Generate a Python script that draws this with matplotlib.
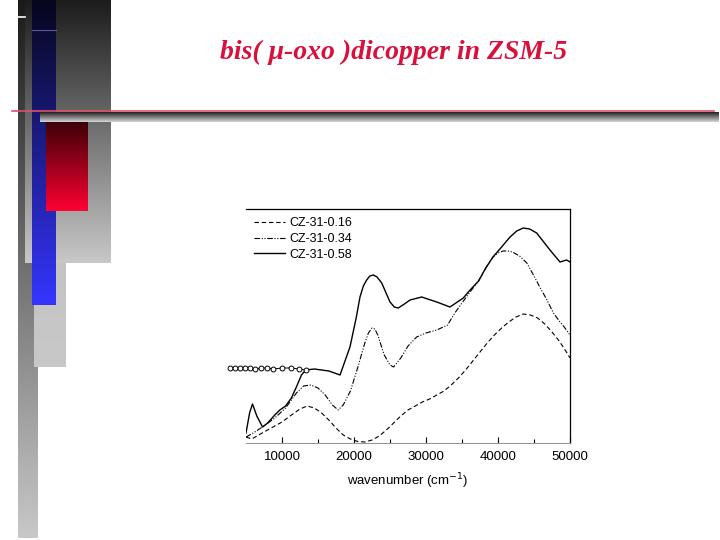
import numpy as np
import matplotlib
matplotlib.use("Agg")
import matplotlib.pyplot as plt
from matplotlib.colors import LinearSegmentedColormap

# spectra (wavenumber in cm-1, arbitrary absorbance)
wn_016 = [5000, 5800, 7000, 8500, 10000, 11500, 12500, 13500, 14500, 15500, 16500, 17500,
          18500, 19500, 20500, 21500, 22500, 23500, 24500, 25500, 26500, 27500, 28500, 29500,
          30500, 31500, 32500, 33500, 34500, 35500, 36500, 37500, 38500, 39500, 40500, 41500,
          42500, 43500, 44500, 45500, 46500, 47500, 48500, 49500, 50000]
ab_016 = [0.06, 0.04, 0.09, 0.15, 0.21, 0.29, 0.34, 0.37, 0.35, 0.30, 0.23, 0.15,
          0.08, 0.04, 0.015, 0.01, 0.03, 0.07, 0.13, 0.20, 0.27, 0.33, 0.37, 0.41,
          0.44, 0.48, 0.52, 0.58, 0.65, 0.73, 0.82, 0.91, 1.00, 1.08, 1.15, 1.21,
          1.26, 1.29, 1.28, 1.25, 1.19, 1.11, 1.02, 0.91, 0.85]

wn_034 = [5000, 6000, 7500, 9000, 10500, 12000, 13000, 14000, 15000, 16000, 17000, 17800,
          18500, 19500, 20500, 21500, 22000, 22500, 22900, 23300, 24200, 25000, 25500, 26500,
          27500, 28700, 30000, 31500, 33000, 34000, 35000, 36000, 37300, 38300, 39300, 40000,
          40700, 41400, 42000, 43000, 44000, 45000, 45800, 46800, 47700, 48500, 49200, 50000]
ab_034 = [0.06, 0.10, 0.17, 0.25, 0.35, 0.50, 0.57, 0.58, 0.55, 0.48, 0.38, 0.33,
          0.38, 0.52, 0.75, 1.00, 1.10, 1.15, 1.14, 1.08, 0.88, 0.78, 0.76, 0.85,
          0.97, 1.06, 1.10, 1.13, 1.18, 1.30, 1.40, 1.50, 1.62, 1.75, 1.86, 1.90,
          1.92, 1.92, 1.91, 1.87, 1.80, 1.67, 1.56, 1.43, 1.30, 1.22, 1.16, 1.08]

wn_058 = [5000, 5500, 5900, 6500, 7300, 8000, 9000, 9700, 10500, 11300, 12000, 12700,
          13300, 14500, 15500, 16500, 17300, 18060, 19440, 20300, 20830, 21300, 21760, 22200,
          22680, 23200, 23850, 25000, 25600, 26150, 27000, 27780, 29400, 31490, 33330, 35180,
          36000, 37300, 38300, 39300, 40500, 41670, 42600, 43510, 44400, 45370, 47220, 48610,
          49540, 50000]
ab_058 = [0.10, 0.30, 0.39, 0.27, 0.16, 0.20, 0.28, 0.33, 0.37, 0.45, 0.56, 0.68,
          0.73, 0.74, 0.73, 0.72, 0.70, 0.68, 0.96, 1.25, 1.46, 1.57, 1.63, 1.67,
          1.68, 1.66, 1.60, 1.41, 1.36, 1.35, 1.39, 1.43, 1.46, 1.41, 1.36, 1.45,
          1.52, 1.62, 1.75, 1.86, 1.96, 2.06, 2.12, 2.15, 2.14, 2.10, 1.93, 1.81,
          1.83, 1.81]

# stray marker trace that spills left of the frame on the slide
wn_stray = [2800, 3500, 4200, 4900, 5600, 6300, 7100, 7900, 8800, 10000, 11200, 12400, 13300]
ab_stray = [0.75, 0.75, 0.75, 0.75, 0.75, 0.74, 0.75, 0.75, 0.74, 0.75, 0.75, 0.74, 0.73]

labels = ["CZ-31-0.16", "CZ-31-0.34", "CZ-31-0.58"]
xticks = [10000, 20000, 30000, 40000, 50000]

fig = plt.figure(figsize=(7.2, 5.4), dpi=100)

# slide background decoration, in pixel coordinates
bg = fig.add_axes([0, 0, 1, 1])
bg.set_xlim(0, 720)
bg.set_ylim(540, 0)
bg.axis("off")


def grad(x0, x1, y0, y1, c_top, c_bot, z=1):
    cmap = LinearSegmentedColormap.from_list("g", [c_top, c_bot])
    g = np.linspace(0, 1, 256).reshape(-1, 1)
    bg.imshow(g, cmap=cmap, extent=(x0, x1, y1, y0), aspect="auto", zorder=z,
              interpolation="bicubic")


grad(18, 38, 0, 538, "#1a1a1a", "#c8c8c8", 1)
grad(25, 111, 0, 263, "#1c1c1c", "#c8c8c8", 2)
grad(34, 66, 263, 367, "#c4c4c4", "#c8c8c8", 2)
grad(32, 56, 0, 305, "#06061c", "#3535ff", 3)
grad(46, 88, 121, 211, "#3a0006", "#ff0033", 4)
grad(40, 719, 112, 122, "#1e1e1e", "#d8d8d8", 5)
bg.plot([32, 56], [30, 30], color="#5a5a9a", lw=0.8, zorder=6)
bg.plot([18, 25], [17, 17], color="white", lw=1.2, zorder=6)
bg.plot([12, 714], [110.5, 110.5], color="#e0506a", lw=1.2, zorder=6)
bg.set_xlim(0, 720)
bg.set_ylim(540, 0)

fig.text(0.546, 0.903, "bis( μ-oxo )dicopper in ZSM-5", ha="center", va="center",
         fontsize=20, fontweight="bold", fontstyle="italic",
         family="Liberation Serif", color="#d8103c")

# the spectrum panel
ax = fig.add_axes([246 / 720, 1 - 443 / 540, 324 / 720, 234 / 540])
ax.patch.set_alpha(0)
ax.plot(wn_016, ab_016, color="black", lw=0.8, ls=(0, (4, 2.5)), label=labels[0])
ax.plot(wn_034, ab_034, color="black", lw=0.8, ls=(0, (5, 1.5, 1, 1.5, 1, 1.5)), label=labels[1])
ax.plot(wn_058, ab_058, color="black", lw=1.0, ls="-", label=labels[2])
ax.plot(wn_stray, ab_stray, color="black", lw=0.7, marker="o", ms=3.5, mfc="white",
        mec="black", mew=0.7, clip_on=False)

ax.set_xlim(5000, 50000)
ax.set_ylim(0, 2.34)
ax.set_xticks(xticks)
ax.set_xticks([15000, 25000, 35000, 45000], minor=True)
ax.set_yticks([])
ax.tick_params(axis="x", which="major", direction="in", length=4, width=0.8,
               labelsize=9.5, pad=6)
ax.tick_params(axis="x", which="minor", direction="in", length=3, width=0.8)
for lab in ax.get_xticklabels():
    lab.set_family("Liberation Sans")
ax.spines["left"].set_visible(False)
ax.spines["bottom"].set_color("#999999")
ax.spines["top"].set_linewidth(0.9)
ax.spines["right"].set_linewidth(0.9)
ax.set_xlabel("wavenumber (cm$^{-1}$)", fontsize=9.5, family="Liberation Sans", labelpad=6)

leg = ax.legend(loc="upper left", frameon=False, handlelength=2.5,
                handletextpad=0.35, labelspacing=0.3, borderaxespad=0.25,
                prop={"family": "Liberation Sans", "size": 9})

fig.savefig("out.png", dpi=100)
